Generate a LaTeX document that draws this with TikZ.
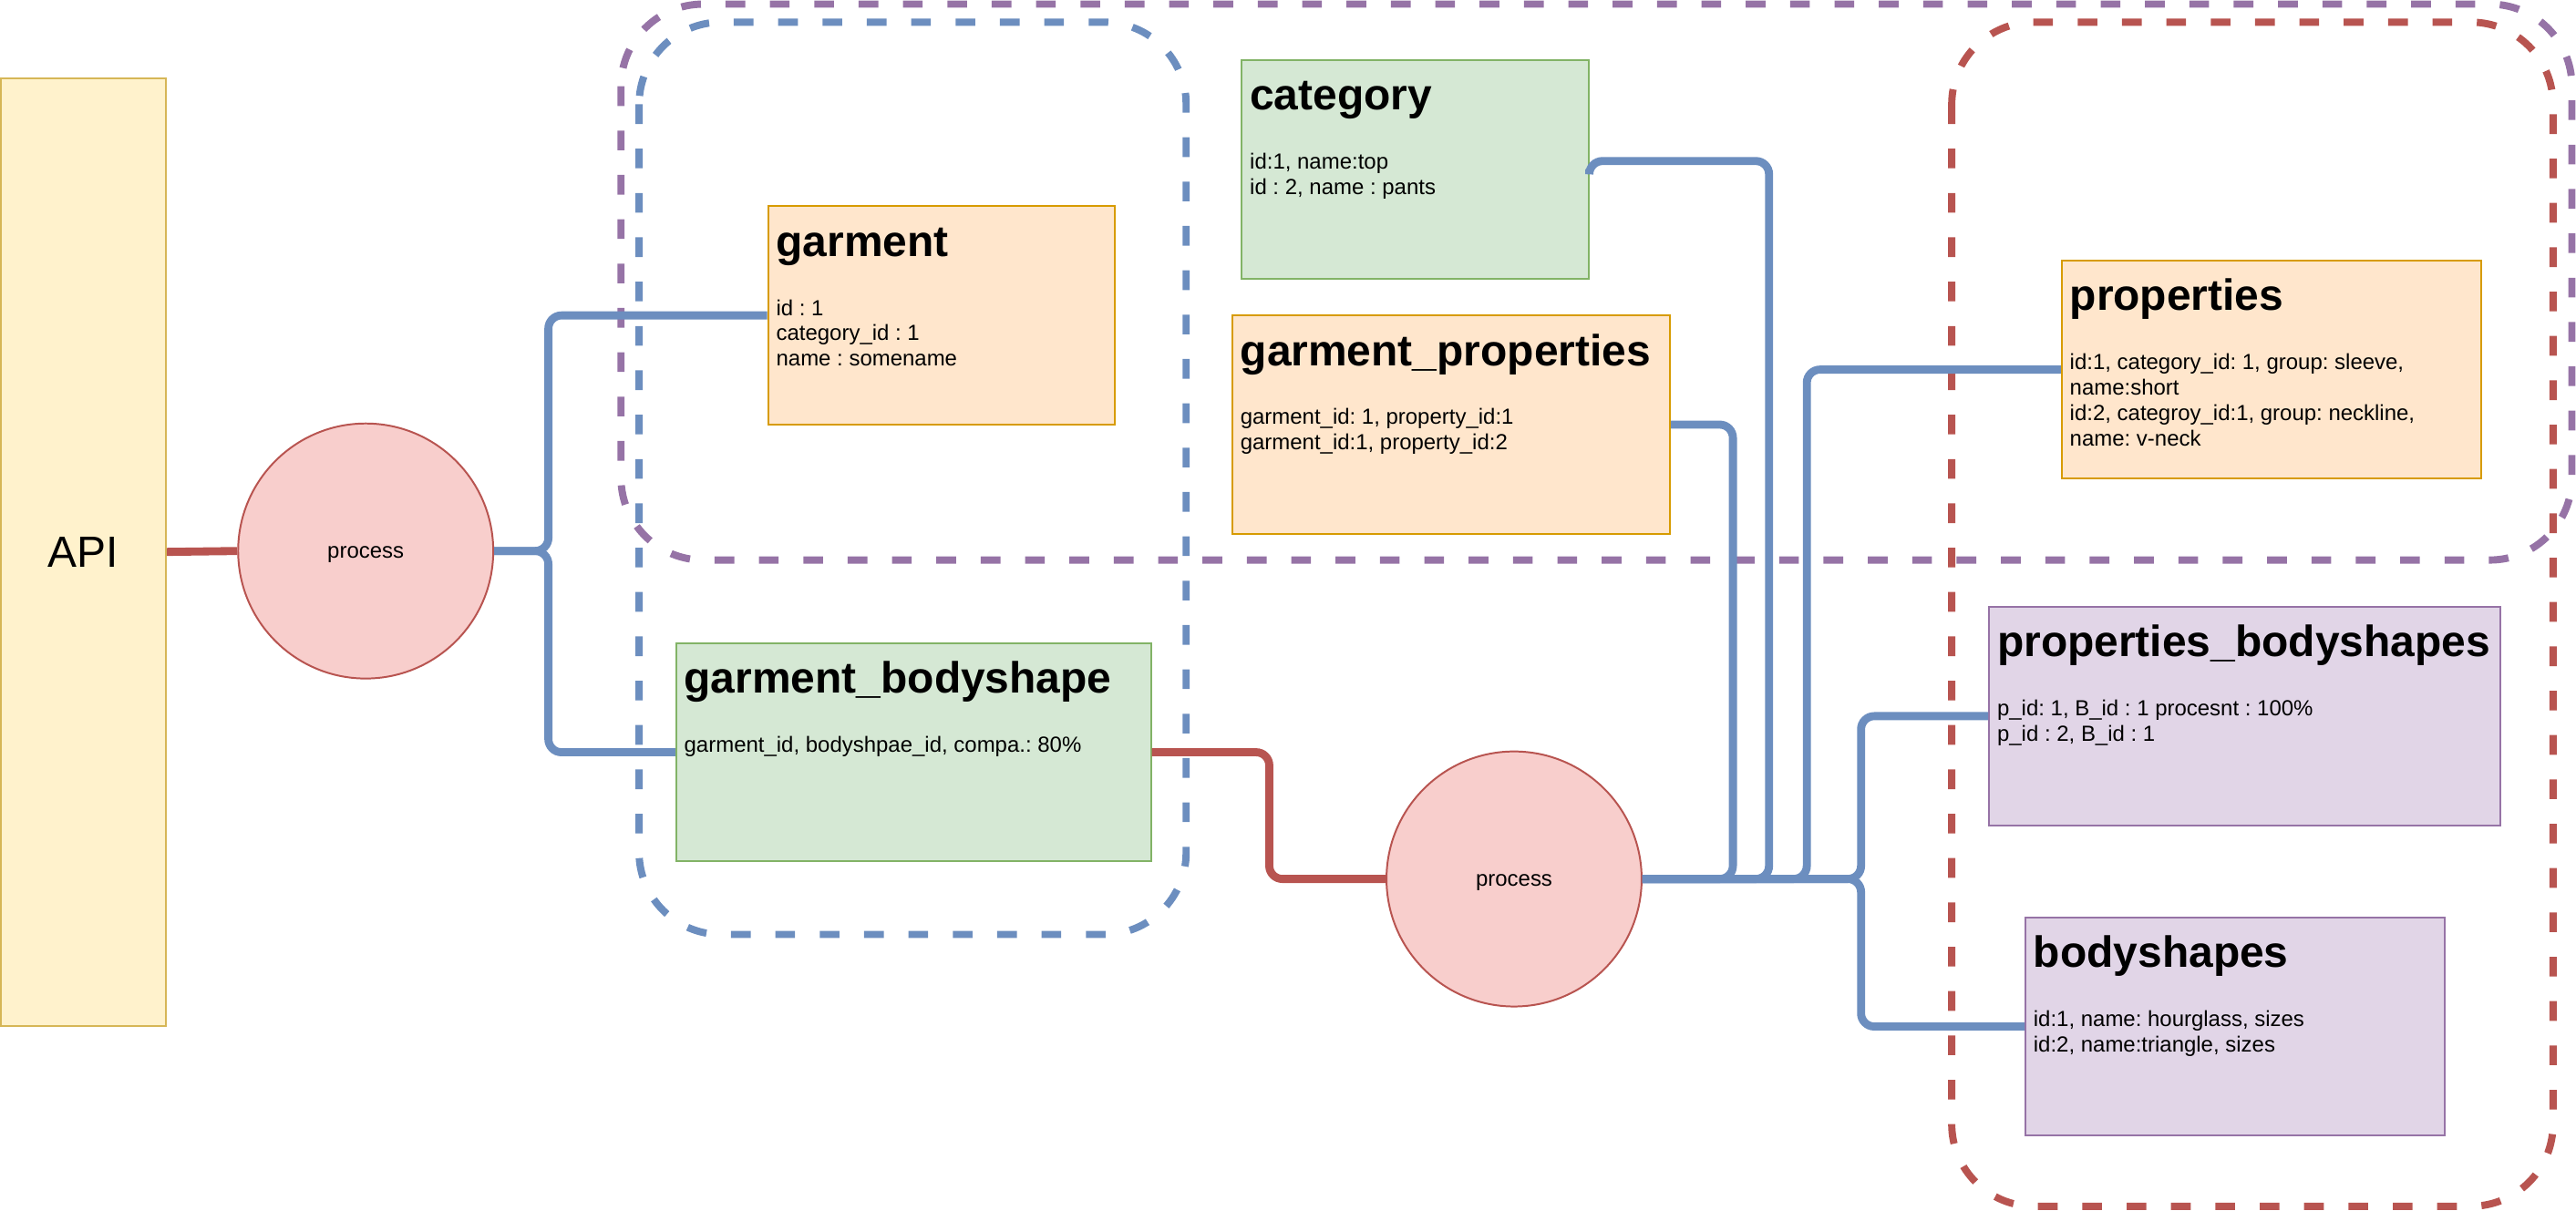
\documentclass[tikz,border=0pt]{standalone}
\usepackage{fontspec}
\setmainfont{Liberation Sans}
\frenchspacing

\definecolor{apifill}{HTML}{FFF2CC}
\definecolor{apiline}{HTML}{D6B656}
\definecolor{orangefill}{HTML}{FFE6CC}
\definecolor{orangeline}{HTML}{D79B00}
\definecolor{greenfill}{HTML}{D5E8D4}
\definecolor{greenline}{HTML}{82B366}
\definecolor{purplefill}{HTML}{E1D5E7}
\definecolor{purpleline}{HTML}{9673A6}
\definecolor{redfill}{HTML}{F8CECC}
\definecolor{redline}{HTML}{B85450}
\definecolor{blueline}{HTML}{6C8EBF}

\begin{document}
\begin{tikzpicture}[x=1pt,y=-1pt,
    tbl/.style={draw, line width=1.1pt, anchor=north west, inner sep=0pt, minimum height=133pt},
    ttl/.style={anchor=base west, inner sep=0pt, font=\fontsize{26.6}{30}\selectfont\bfseries},
    txt/.style={anchor=base west, inner sep=0pt, font=\fontsize{13.3}{15.45}\selectfont},
    proc/.style={circle, draw=redline, fill=redfill, line width=1.1pt, minimum size=155.3pt,
        inner sep=0pt, text height=12pt, text depth=2.8pt, font=\fontsize{13.3}{15.45}\selectfont},
    group/.style={line width=4.4pt, rounded corners=50pt, dash pattern=on 12pt off 15pt},
    link/.style={line width=4.9pt, rounded corners=8pt}]
    \useasboundingbox (0,0) rectangle (1568,736.9);

    % draw the dashed groups
    \draw[group, purpleline] (378,2.5) rectangle (1565.5,341);
    \draw[group, blueline] (389,13.5) rectangle (722,569);
    \draw[group, redline] (1188,13.5) rectangle (1554,734.5);

    % the api and the two processes
    \node[draw=apiline, fill=apifill, line width=1.1pt, anchor=north west, inner sep=0pt,
        minimum width=100.5pt, minimum height=577pt, font=\fontsize{26.6}{30}\selectfont] (api) at (0,47) {API};
    \node[proc] (proc1) at (222.6,335.5) {process};
    \node[proc] (proc2) at (921.6,535.2) {process};

    % draw the tables
    \node[tbl, draw=orangeline, fill=orangefill, minimum width=211pt] (garment) at (467,125) {};
    \node[ttl] (garment-t) at ([shift={(5.3,31)}]garment.north west) {garment};
    \node[txt] (garment-b) at ([shift={(5.3,67)}]garment.north west)
        {\begin{tabular}[t]{@{}l@{}}id : 1\\category\_id : 1\\name : somename\end{tabular}};

    \node[tbl, draw=greenline, fill=greenfill, minimum width=211pt] (cat) at (755.3,36) {};
    \node[ttl] (cat-t) at ([shift={(5.3,31)}]cat.north west) {category};
    \node[txt] (cat-b) at ([shift={(5.3,67)}]cat.north west)
        {\begin{tabular}[t]{@{}l@{}}id:1, name:top\\id : 2, name : pants\end{tabular}};

    \node[tbl, draw=orangeline, fill=orangefill, minimum width=266.5pt] (gprop) at (749.5,191.5) {};
    \node[ttl] (gprop-t) at ([shift={(5.3,31)}]gprop.north west) {garment\_properties};
    \node[txt] (gprop-b) at ([shift={(5.3,67)}]gprop.north west)
        {\begin{tabular}[t]{@{}l@{}}garment\_id: 1, property\_id:1\\garment\_id:1, property\_id:2\end{tabular}};

    \node[tbl, draw=orangeline, fill=orangefill, minimum width=255.5pt] (props) at (1254.4,158) {};
    \node[ttl] (props-t) at ([shift={(5.3,31)}]props.north west) {properties};
    \node[txt] (props-b) at ([shift={(5.3,67)}]props.north west)
        {\begin{tabular}[t]{@{}l@{}}id:1, category\_id: 1, group: sleeve,\\name:short\\
        id:2, categroy\_id:1, group: neckline,\\name: v-neck\end{tabular}};

    \node[tbl, draw=purpleline, fill=purplefill, minimum width=311pt] (pbs) at (1210.2,369) {};
    \node[ttl] (pbs-t) at ([shift={(5.3,31)}]pbs.north west) {properties\_bodyshapes};
    \node[txt] (pbs-b) at ([shift={(5.3,67)}]pbs.north west)
        {\begin{tabular}[t]{@{}l@{}}p\_id: 1, B\_id : 1 procesnt : 100\%\\p\_id : 2, B\_id : 1\end{tabular}};

    \node[tbl, draw=purpleline, fill=purplefill, minimum width=255.5pt] (bshapes) at (1232.3,558) {};
    \node[ttl] (bshapes-t) at ([shift={(5.3,31)}]bshapes.north west) {bodyshapes};
    \node[txt] (bshapes-b) at ([shift={(5.3,67)}]bshapes.north west)
        {\begin{tabular}[t]{@{}l@{}}id:1, name: hourglass, sizes\\id:2, name:triangle, sizes\end{tabular}};

    \node[tbl, draw=greenline, fill=greenfill, minimum width=289pt] (gbs) at (411,391) {};
    \node[ttl] (gbs-t) at ([shift={(5.3,31)}]gbs.north west) {garment\_bodyshape};
    \node[txt] (gbs-b) at ([shift={(5.3,67)}]gbs.north west) {garment\_id, bodyshpae\_id, compa.: 80\%};

    % draw the links
    \draw[link, redline] (api.east) -- (proc1.west);
    \draw[link, blueline] (proc1.east) -- ++(33,0) |- (garment.west);
    \draw[link, blueline] (proc1.east) -- ++(33,0) |- (gbs.west);
    \draw[link, redline] (gbs.east) -- ++(71.5,0) |- (proc2.west);
    \foreach \dx/\tgt in {55/gprop.east, 100/props.west, 133/pbs.west, 133/bshapes.west}
        \draw[link, blueline] (proc2.east) -- ++(\dx,0) |- (\tgt);
    \draw[link, blueline] (proc2.east) -- ++(77,0) |- ([yshift=5pt]cat.east) -- (cat.east);
\end{tikzpicture}
\end{document}
